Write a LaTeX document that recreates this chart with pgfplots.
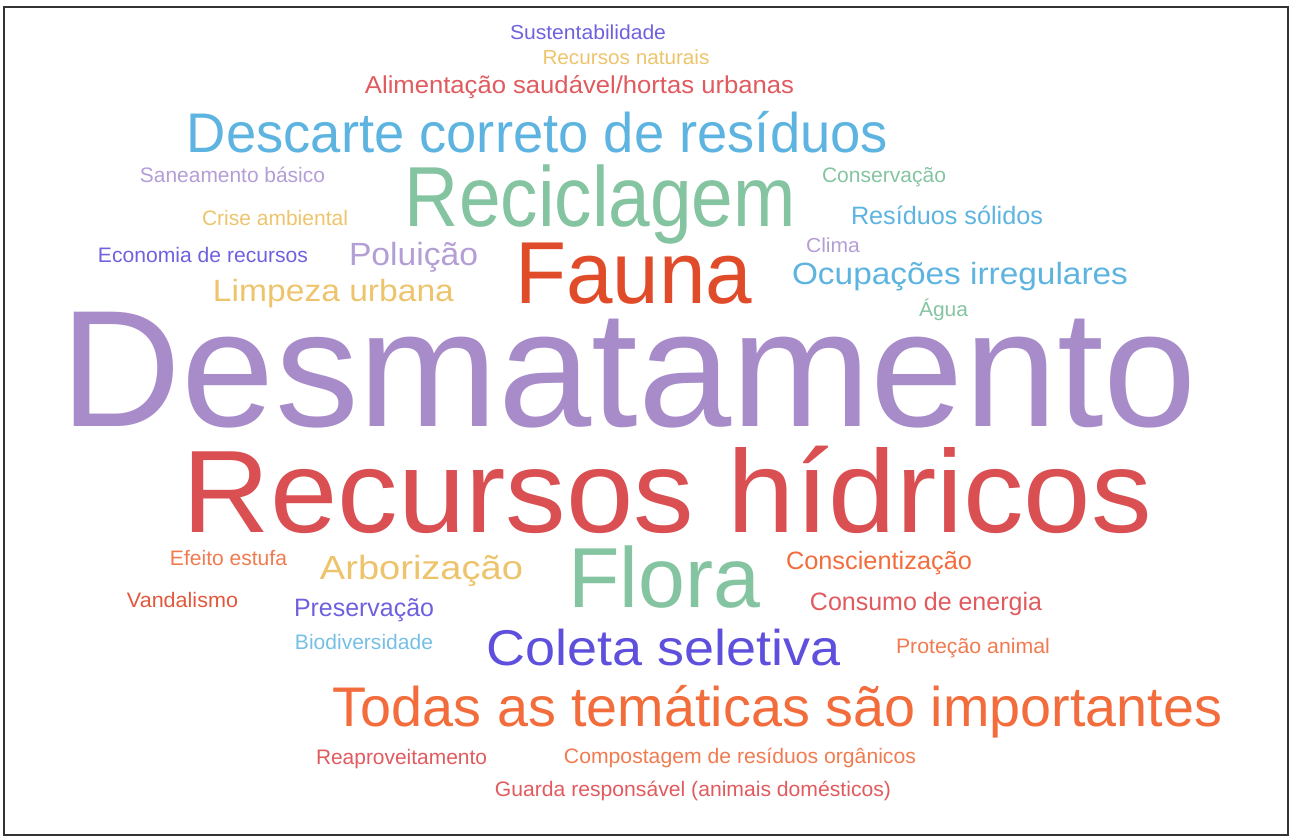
\documentclass[border=0pt]{standalone}
\usepackage{fontspec}
\setmainfont{Liberation Sans}
\usepackage{graphicx}
\usepackage{pgfplots}
\pgfplotsset{compat=1.18}
\definecolor{cPurple}{HTML}{A88CCA}
\definecolor{cLav}{HTML}{B39ED6}
\definecolor{cRed}{HTML}{DA4F52}
\definecolor{cRed2}{HTML}{E05A5E}
\definecolor{cBlue}{HTML}{5DB4E0}
\definecolor{cGreen}{HTML}{85C4A0}
\definecolor{cFauna}{HTML}{E04B2A}
\definecolor{cYellow}{HTML}{EDC46C}
\definecolor{cIndigo}{HTML}{5E50DC}
\definecolor{cOrange}{HTML}{F26C3C}
\definecolor{cOrange2}{HTML}{F07B50}
\definecolor{cVerm}{HTML}{E2583C}
% #1 x center, #2 baseline y, #3 cap height px, #4 width px, #5 colour, #6 word
\newcommand{\word}[6]{%
  \addplot[draw=none, mark=none, forget plot,
    point meta=explicit symbolic,
    nodes near coords={\resizebox{\fpeval{#4*0.75}pt}{\height}{\pgfplotspointmeta}},
    every node near coord/.style={anchor=base, inner sep=0pt, text=#5,
      font=\fontsize{\fpeval{#3*1.0475}pt}{\fpeval{#3*1.25}pt}\selectfont}]
    coordinates {(#1,#2) [#6]};}
\begin{document}
\begin{tikzpicture}
\begin{axis}[
  width=967.5pt, height=627.75pt, scale only axis,
  xmin=0, xmax=1290, ymin=0, ymax=837, y dir=reverse,
  hide axis, clip=false]
\path (axis cs:0,0) rectangle (axis cs:1290,837);
\draw[color=black!80, line width=1.2pt] (axis cs:4,7) rectangle (axis cs:1288,835);
\word{588}{40}{14.5}{156}{cIndigo!90}{Sustentabilidade}
\word{626}{65}{14.5}{167}{cYellow}{Recursos naturais}
\word{579.5}{94}{17.5}{429}{cRed2}{Alimentação saudável/hortas urbanas}
\word{537.5}{153}{40}{701}{cBlue}{Descarte correto de resíduos}
\word{232.5}{183}{15}{185}{cLav}{Saneamento básico}
\word{884}{183}{15}{124}{cGreen}{Conservação}
\word{600.5}{227}{61}{391}{cGreen}{Reciclagem}
\word{275}{226}{15}{146}{cYellow}{Crise ambiental}
\word{947}{225}{18}{192}{cBlue}{Resíduos sólidos}
\word{833}{253}{14.5}{54}{cLav}{Clima}
\word{203}{263}{15}{210}{cIndigo!90}{Economia de recursos}
\word{413.5}{266}{23}{129}{cLav}{Poluição}
\word{633.5}{304}{63}{237}{cFauna}{Fauna}
\word{960}{285}{22}{336}{cBlue}{Ocupações irregulares}
\word{333.5}{302}{22}{241}{cYellow}{Limpeza urbana}
\word{943.5}{317}{14.5}{49}{cGreen}{Água}
\word{629}{427}{119}{1136}{cPurple}{Desmatamento}
\word{667.5}{533}{84}{969}{cRed}{Recursos hídricos}
\word{228.5}{566}{15}{117}{cOrange2}{Efeito estufa}
\word{421.5}{580}{24}{203}{cYellow}{Arborização}
\word{664}{608}{61}{192}{cGreen}{Flora}
\word{879}{570}{18}{186}{cOrange}{Conscientização}
\word{182.5}{608}{15}{111}{cVerm}{Vandalismo}
\word{364}{617}{18}{140}{cIndigo!90}{Preservação}
\word{926}{611}{18}{232}{cRed2}{Consumo de energia}
\word{364}{650}{15}{138}{cBlue!85}{Biodiversidade}
\word{664}{666}{36}{354}{cIndigo}{Coleta seletiva}
\word{973}{654}{15}{154}{cOrange2}{Proteção animal}
\word{777.5}{727}{40}{889}{cOrange}{Todas as temáticas são importantes}
\word{401.5}{764}{15}{171}{cRed2}{Reaproveitamento}
\word{740}{764}{15}{352}{cOrange2}{Compostagem de resíduos orgânicos}
\word{693}{797}{15}{396}{cRed2}{Guarda responsável (animais domésticos)}
\end{axis}
\end{tikzpicture}
\end{document}
